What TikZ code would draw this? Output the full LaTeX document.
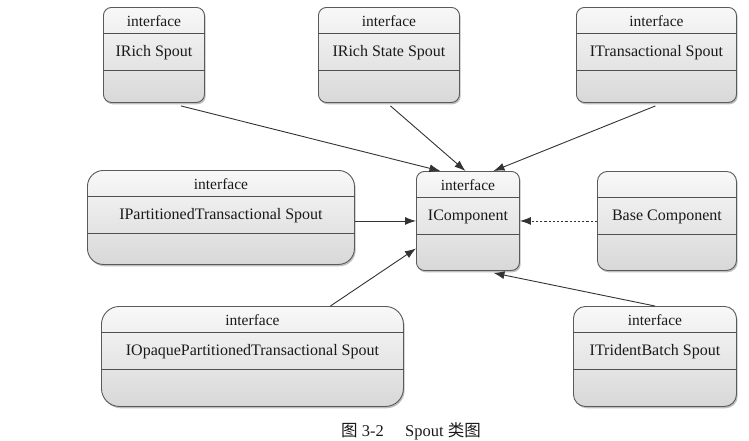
\documentclass[tikz,border=0pt]{standalone}
\usepackage{fontspec}
\setmainfont{Liberation Serif}
\newfontfamily\cjk{Noto Sans CJK SC}
\usetikzlibrary{shadows,arrows.meta,calc}
\definecolor{boxline}{HTML}{5A5A5A}
\definecolor{divcol}{HTML}{505050}
\definecolor{boxtop}{HTML}{F8F8F8}
\definecolor{boxbot}{HTML}{D8D8D8}
\definecolor{txt}{HTML}{1A1A1A}
\definecolor{arrcol}{HTML}{333333}
\tikzset{
  umlbox/.style={draw=boxline, line width=0.9pt, top color=boxtop, bottom color=boxbot,
    drop shadow={shadow xshift=1.2pt, shadow yshift=-1.8pt, opacity=0.5},
    inner sep=0pt, anchor=north west},
  divider/.style={draw=divcol, line width=0.8pt},
  toptext/.style={font=\fontsize{15.5}{17}\selectfont, text=txt, inner sep=0pt},
  labeltext/.style={font=\fontsize{16}{19}\selectfont, text=txt, inner sep=0pt},
  inherit/.style={draw=arrcol, line width=0.9pt, -{Latex[length=11pt,width=8pt]}},
  realize/.style={inherit, dash pattern=on 2.2pt off 2pt},
}
% name, x1, y1, x2, y2, radius, label
\newcommand\umlframe[7]{%
  \node[umlbox, rounded corners=#6, minimum width={(#4-#2)*1pt}, minimum height={(#5-#3)*1pt}] (#1) at (#2,#3) {};
  \draw[divider] ($(#1.north west)+(0,26)$) -- ($(#1.north east)+(0,26)$);
  \draw[divider] ($(#1.north west)+(0,63)$) -- ($(#1.north east)+(0,63)$);
  \node[labeltext] (#1-l) at ($(#1.north)+(0,45.5)$) {#7};
}
\newcommand\umltitle[1]{%
  \node[toptext] (#1-t) at ($(#1.north)+(0,14)$) {interface};
}
\begin{document}
\begin{tikzpicture}[x=1pt,y=-1pt]
\fill[white] (0,0) rectangle (749,440);
\useasboundingbox (0,0) rectangle (749,440);

\umlframe{r1}{103}{7}{204}{102}{8pt}{IRich Spout}
\umltitle{r1}
\umlframe{r2}{318}{7}{459}{102}{8pt}{IRich State Spout}
\umltitle{r2}
\umlframe{r3}{576}{7}{736}{102}{8pt}{ITransactional Spout}
\umltitle{r3}
\umlframe{p}{87}{170}{354}{264}{16pt}{IPartitionedTransactional Spout}
\umltitle{p}
\umlframe{c}{416}{171}{519}{270}{8pt}{IComponent}
\umltitle{c}
\umlframe{b}{597}{171}{736}{270}{10pt}{Base Component}
\umlframe{o}{101}{306}{403}{406}{18pt}{IOpaquePartitionedTransactional Spout}
\umltitle{o}
\umlframe{t}{573}{306}{736}{406}{12pt}{ITridentBatch Spout}
\umltitle{t}

\draw[inherit] ([xshift=27pt,yshift=-3pt]r1.south) -- ([xshift=-27.5pt]c.north);
\draw[inherit] ([xshift=1.5pt,yshift=-3pt]r2.south) -- ([xshift=-2.5pt]c.north);
\draw[inherit] ([xshift=-1pt,yshift=-3pt]r3.south) -- ([xshift=25.5pt]c.north);
\draw[inherit] (p.east |- c.west) -- (c.west);
\draw[realize] (b.west) -- (c.east);
\draw[inherit] ([xshift=78pt]o.north) -- ([yshift=-27.5pt]c.west);
\draw[inherit] (t.north) -- ([xshift=25.5pt,yshift=-2pt]c.south);

\node[font=\fontsize{16.5}{19}\selectfont, text=txt] (cap) at (411,431) {{\cjk 图} 3-2\hspace{1.3em}Spout {\cjk 类图}};
\end{tikzpicture}
\end{document}
